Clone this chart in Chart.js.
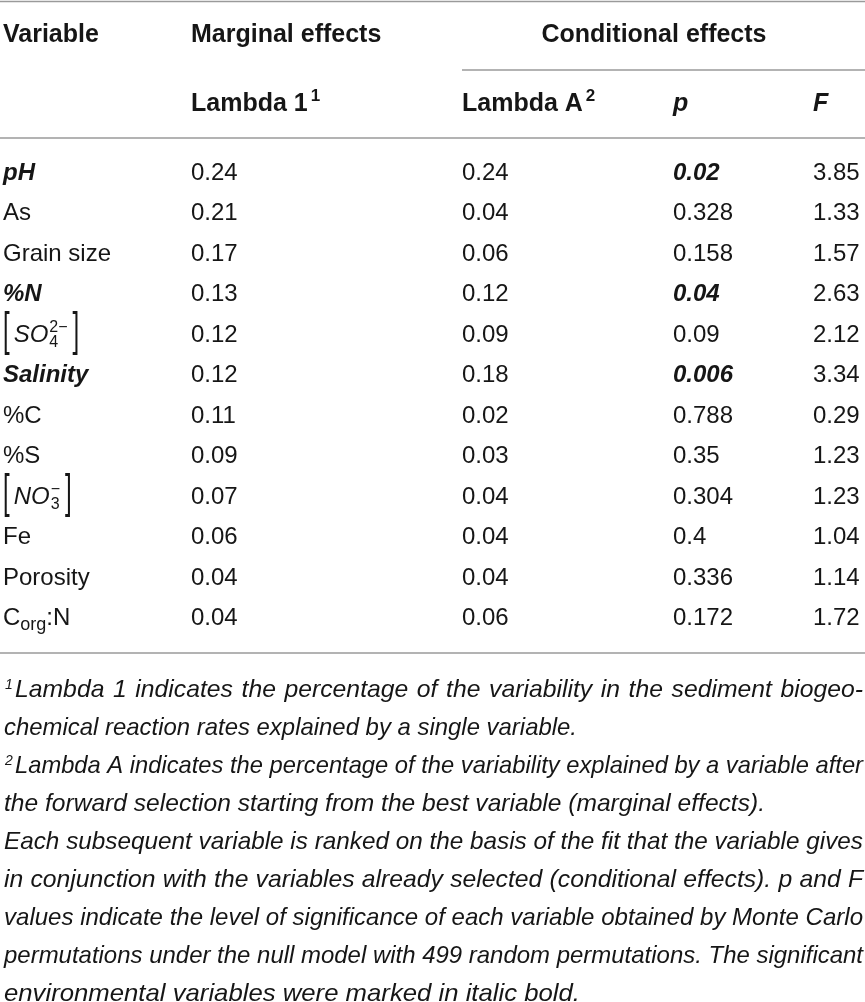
<!DOCTYPE html>
<html>
<head>
<meta charset="utf-8">
<script src="https://cdn.jsdelivr.net/npm/chart.js@4.4.0/dist/chart.umd.min.js"></script>
<style>
  html, body { margin: 0; padding: 0; background: #ffffff; }
  #wrap { width: 865px; height: 1002px; position: relative; }
</style>
</head>
<body>
<div id="wrap"><canvas id="c"></canvas></div>
<script>
// ---------------- DATA ----------------
const variables = ['pH', 'As', 'Grain size', '%N', '[SO4 2−]', 'Salinity', '%C', '%S', '[NO3 −]', 'Fe', 'Porosity', 'Corg:N'];
const lambda1 = [0.24, 0.21, 0.17, 0.13, 0.12, 0.12, 0.11, 0.09, 0.07, 0.06, 0.04, 0.04];
const lambdaA = [0.24, 0.04, 0.06, 0.12, 0.09, 0.18, 0.02, 0.03, 0.04, 0.04, 0.04, 0.06];
const pValues = [0.02, 0.328, 0.158, 0.04, 0.09, 0.006, 0.788, 0.35, 0.304, 0.4, 0.336, 0.172];
const fValues = [3.85, 1.33, 1.57, 2.63, 2.12, 3.34, 0.29, 1.23, 1.23, 1.04, 1.14, 1.72];
const significant = ['pH', '%N', 'Salinity'];
const headerTop = ['Variable', 'Marginal effects', 'Conditional effects'];
const headerSub = ['Lambda 1', 'Lambda A', 'p', 'F'];
const headerSubSup = ['1', '2', '', ''];
const footnoteLines = [
  'Lambda 1 indicates the percentage of the variability in the sediment biogeo-',
  'chemical reaction rates explained by a single variable.',
  'Lambda A indicates the percentage of the variability explained by a variable after',
  'the forward selection starting from the best variable (marginal effects).',
  'Each subsequent variable is ranked on the basis of the fit that the variable gives',
  'in conjunction with the variables already selected (conditional effects). p and F',
  'values indicate the level of significance of each variable obtained by Monte Carlo',
  'permutations under the null model with 499 random permutations. The significant',
  'environmental variables were marked in italic bold.'
];
const footnoteSups = ['1', '', '2', '', '', '', '', '', ''];

// ---------------- LAYOUT / STYLE ----------------
const LAYOUT = {
  width: 865, height: 1002,
  colX: { variable: 3, lambda1: 191, lambdaA: 462, p: 673, F: 813 },
  header1Y: 33, header2Y: 102, condCenterX: 654,
  condRuleX0: 462, condRuleY: 70,
  rules: [1.5, 138, 653],
  firstRowY: 171, rowStep: 40.5,
  footX: 4, footXSup: 15, footRight: 863, footY0: 688, footStep: 38.1,
  footEnd: [null, 577, null, 765, null, null, null, null, 580]
};
const FONT = '"Liberation Sans", Arial, Helvetica, sans-serif';
const TEXT = '#161616';
const RULE = '#9a9a9a';
const SIZE = { header: 25, headerSup: 17, body: 24, foot: 24, footSup: 14 };

// Rich label specs for formula-like variable names
const RICH = {
  '[SO4 2−]': [{ bracket: '[' }, { t: 'SO', italic: true }, { sup: '2−', sub: '4' }, { bracket: ']' }],
  '[NO3 −]': [{ bracket: '[' }, { t: 'NO', italic: true }, { sup: '−', sub: '3' }, { bracket: ']' }],
  'Corg:N': [{ t: 'C' }, { sub2: 'org' }, { t: ':N' }]
};

const cols = [
  { key: 'variable', cells: variables },
  { key: 'lambda1', cells: lambda1.map(String) },
  { key: 'lambdaA', cells: lambdaA.map(String) },
  { key: 'p', cells: pValues.map(String) },
  { key: 'F', cells: fValues.map(String) }
];

const datasets = cols.map(c => ({
  label: c.key,
  colKey: c.key,
  cells: c.cells,
  data: variables.map(v => ({ x: LAYOUT.colX[c.key], y: v }))
}));

function font(size, bold, italic) {
  return (italic ? 'italic ' : '') + (bold ? 'bold ' : '') + size + 'px ' + FONT;
}

function drawRich(ctx, segs, x, yc, size) {
  const base = yc + 0.36 * size;
  let cx = x;
  for (const s of segs) {
    if (s.bracket) {
      ctx.font = font(size, false, false);
      const w = ctx.measureText(s.bracket).width;
      ctx.save();
      ctx.translate(cx + (s.bracket === ']' ? 3 : 0), yc);
      ctx.scale(1, 1.9);
      ctx.fillText(s.bracket, 0, 0.26 * size);
      ctx.restore();
      cx += w + (s.bracket === '[' ? 4 : 0);
    } else if (s.sup !== undefined) {
      const ss = Math.round(size * 0.68);
      ctx.font = font(ss, false, false);
      const w1 = ctx.measureText(s.sup).width;
      const w2 = ctx.measureText(s.sub).width;
      ctx.fillText(s.sup, cx + 1, base - size * 0.42);
      ctx.fillText(s.sub, cx + 1, base + size * 0.22);
      cx += Math.max(w1, w2) + 3;
    } else if (s.sub2) {
      const ss = Math.round(size * 0.75);
      ctx.font = font(ss, false, false);
      ctx.fillText(s.sub2, cx, base + size * 0.2);
      cx += ctx.measureText(s.sub2).width;
    } else {
      ctx.font = font(size, false, !!s.italic);
      ctx.fillText(s.t, cx, base);
      cx += ctx.measureText(s.t).width;
    }
  }
}

const tablePlugin = {
  id: 'tablePlugin',
  afterDraw(chart) {
    const { ctx, scales: { x } } = chart;
    const X = v => x.getPixelForValue(v);
    ctx.save();
    ctx.textBaseline = 'alphabetic';
    ctx.textAlign = 'left';
    ctx.fillStyle = TEXT;

    // rules
    ctx.strokeStyle = RULE;
    ctx.lineWidth = 1.6;
    LAYOUT.rules.forEach(ry => {
      ctx.beginPath(); ctx.moveTo(X(0), ry); ctx.lineTo(X(LAYOUT.width), ry); ctx.stroke();
    });
    ctx.beginPath();
    ctx.moveTo(X(LAYOUT.condRuleX0), LAYOUT.condRuleY);
    ctx.lineTo(X(LAYOUT.width), LAYOUT.condRuleY);
    ctx.stroke();

    // header row 1
    const hs = SIZE.header;
    const hb1 = LAYOUT.header1Y + 0.36 * hs;
    ctx.font = font(hs, true, false);
    ctx.fillText(headerTop[0], X(LAYOUT.colX.variable), hb1);
    ctx.fillText(headerTop[1], X(LAYOUT.colX.lambda1), hb1);
    ctx.textAlign = 'center';
    ctx.fillText(headerTop[2], X(LAYOUT.condCenterX), hb1);
    ctx.textAlign = 'left';

    // header row 2
    const hb2 = LAYOUT.header2Y + 0.36 * hs;
    const subCols = ['lambda1', 'lambdaA', 'p', 'F'];
    headerSub.forEach((h, i) => {
      const italic = (h === 'p' || h === 'F');
      ctx.font = font(hs, true, italic);
      const hx = X(LAYOUT.colX[subCols[i]]);
      ctx.fillText(h, hx, hb2);
      if (headerSubSup[i]) {
        const w = ctx.measureText(h).width;
        ctx.font = font(SIZE.headerSup, true, false);
        ctx.fillText(headerSubSup[i], hx + w + 3, hb2 - 10);
      }
    });

    // body cells, positioned through the chart's scales
    const bs = SIZE.body;
    chart.data.datasets.forEach((ds, di) => {
      const meta = chart.getDatasetMeta(di);
      meta.data.forEach((pt, i) => {
        const txt = ds.cells[i];
        const v = variables[i];
        const sig = significant.includes(v);
        if (ds.colKey === 'variable' && RICH[txt]) {
          drawRich(ctx, RICH[txt], pt.x, pt.y, bs);
          return;
        }
        const boldIt = sig && (ds.colKey === 'variable' || ds.colKey === 'p');
        ctx.font = font(bs, boldIt, boldIt);
        ctx.fillText(txt, pt.x, pt.y + 0.36 * bs);
      });
    });

    // footnotes
    const fs = SIZE.foot;
    ctx.font = font(fs, false, true);
    const spW = ctx.measureText(' ').width;
    const scales = [];
    footnoteLines.forEach((line, i) => {
      const end = LAYOUT.footEnd[i];
      if (end) {
        const start = footnoteSups[i] ? LAYOUT.footXSup : LAYOUT.footX;
        scales.push((end - start) / ctx.measureText(line).width);
      }
    });
    const avgScale = scales.reduce((a, b) => a + b, 0) / scales.length;

    footnoteLines.forEach((line, i) => {
      const yb = LAYOUT.footY0 + i * LAYOUT.footStep + 0.36 * fs;
      const start = footnoteSups[i] ? LAYOUT.footXSup : LAYOUT.footX;
      if (footnoteSups[i]) {
        ctx.font = font(SIZE.footSup, false, true);
        ctx.fillText(footnoteSups[i], X(LAYOUT.footX + 1), yb - 8);
      }
      ctx.font = font(fs, false, true);
      const end = LAYOUT.footEnd[i];
      if (end) {
        const s = (end - start) / ctx.measureText(line).width;
        ctx.save();
        ctx.translate(X(start), yb);
        ctx.scale(s, 1);
        ctx.fillText(line, 0, 0);
        ctx.restore();
      } else {
        const words = line.split(' ');
        const ws = words.map(w => ctx.measureText(w).width);
        const W = ws.reduce((a, b) => a + b, 0);
        const target = LAYOUT.footRight - start;
        let s = avgScale, gap;
        if (s * (W + spW * (words.length - 1)) <= target) {
          gap = (target - s * W) / (words.length - 1);
        } else {
          s = target / (W + spW * (words.length - 1));
          gap = spW * s;
        }
        let cx = start;
        words.forEach((w, k) => {
          ctx.save();
          ctx.translate(X(cx), yb);
          ctx.scale(s, 1);
          ctx.fillText(w, 0, 0);
          ctx.restore();
          cx += ws[k] * s + gap;
        });
      }
    });
    ctx.restore();
  }
};

const padTop = LAYOUT.firstRowY - LAYOUT.rowStep / 2;
const padBottom = LAYOUT.height - padTop - LAYOUT.rowStep * variables.length;

new Chart(document.getElementById('c'), {
  type: 'scatter',
  data: { datasets },
  options: {
    responsive: true,
    maintainAspectRatio: false,
    animation: false,
    events: [],
    layout: { padding: { top: padTop, bottom: padBottom, left: 0, right: 0 } },
    plugins: { legend: { display: false }, tooltip: { enabled: false } },
    elements: { point: { radius: 0, hoverRadius: 0 } },
    scales: {
      x: { type: 'linear', min: 0, max: LAYOUT.width, display: false },
      y: { type: 'category', labels: variables, offset: true, display: false }
    }
  },
  plugins: [tablePlugin]
});
</script>
</body>
</html>
